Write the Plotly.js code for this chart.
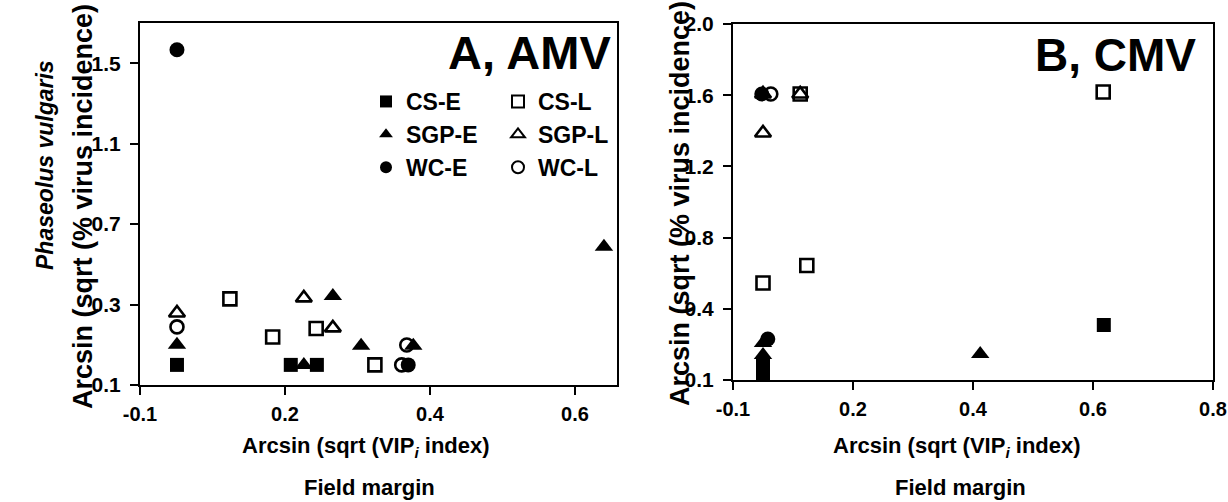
<!DOCTYPE html>
<html>
<head>
<meta charset="utf-8">
<script src="https://cdn.plot.ly/plotly-3.0.1.min.js"></script>
<style>html,body{margin:0;padding:0;background:#fff}#chart{width:1228px;height:502px}</style>
</head>
<body>
<div id="chart"></div>
<script>
// ---- data ----
const seriesNames = ['CS-E', 'SGP-E', 'WC-E', 'CS-L', 'SGP-L', 'WC-L'];

// Panel A, AMV
const amvCSE_x  = [0.051, 0.208, 0.244];
const amvCSE_y  = [0.000, 0.000, 0.000];
const amvSGPE_x = [0.051, 0.226, 0.266, 0.305, 0.377, 0.640];
const amvSGPE_y = [0.100, 0.000, 0.343, 0.095, 0.095, 0.587];
const amvWCE_x  = [0.051, 0.370];
const amvWCE_y  = [1.567, 0.000];
const amvCSL_x  = [0.124, 0.183, 0.243, 0.324];
const amvCSL_y  = [0.328, 0.139, 0.181, 0.000];
const amvSGPL_x = [0.051, 0.226, 0.266];
const amvSGPL_y = [0.258, 0.333, 0.184];
const amvWCL_x  = [0.051, 0.361, 0.368];
const amvWCL_y  = [0.189, 0.000, 0.099];

// Panel B, CMV
const cmvCSE_x  = [0.050, 0.050, 0.618];
const cmvCSE_y  = [0.030, 0.084, 0.309];
const cmvSGPE_x = [0.050, 0.050, 0.412];
const cmvSGPE_y = [0.140, 0.208, 0.146];
const cmvWCE_x  = [0.048, 0.058];
const cmvWCE_y  = [1.607, 0.230];
const cmvCSL_x  = [0.050, 0.112, 0.123, 0.617];
const cmvCSL_y  = [0.545, 1.607, 0.643, 1.618];
const cmvSGPL_x = [0.050, 0.050, 0.112];
const cmvSGPL_y = [1.388, 1.607, 1.607];
const cmvWCL_x  = [0.063];
const cmvWCL_y  = [1.607];

// tick labels
const amvXTickVals = [0, 0.2, 0.4, 0.6];
const amvXTickText = ['-0.1', '0.2', '0.4', '0.6'];
const amvYTickVals = [-0.1, 0.3, 0.7, 1.1, 1.5];
const amvYTickText = ['0.1', '0.3', '0.7', '1.1', '1.5'];
const cmvXTickVals = [0, 0.2, 0.4, 0.6, 0.8];
const cmvXTickText = ['-0.1', '0.2', '0.4', '0.6', '0.8'];
const cmvYTickVals = [0, 0.4, 0.8, 1.2, 1.6, 2.0];
const cmvYTickText = ['0.1', '0.4', '0.8', '1.2', '1.6', '2.0'];

const panelTitles = ['A, AMV', 'B, CMV'];
const xTitle = 'Arcsin (sqrt (VIP<sub><i>i</i></sub> index)';
const xTitle2 = 'Field margin';
const yTitle = 'Arcsin (sqrt (% virus incidence)';
const ySpecies = '<i>Phaseolus vulgaris</i>';

// ---- styling ----
const W = 1228, H = 502;
const FONT = 'Liberation Sans, Arial, Helvetica, sans-serif';
const px = v => v / W;
const py = v => (H - v) / H;

const symbolOf = {
  'CS-E': 'square', 'SGP-E': 'triangle-up', 'WC-E': 'circle',
  'CS-L': 'square-open', 'SGP-L': 'triangle-up-open', 'WC-L': 'circle-open'
};
const sizeOf = {
  'CS-E': 14, 'SGP-E': 16, 'WC-E': 15, 'CS-L': 13, 'SGP-L': 14, 'WC-L': 13
};

function mk(name, x, y, xa, ya, showleg) {
  const open = name.endsWith('-L');
  return {
    type: 'scatter', mode: 'markers', name: name, x: x, y: y,
    xaxis: xa, yaxis: ya, cliponaxis: false,
    showlegend: showleg,
    legend: open ? 'legend2' : 'legend',
    legendgroup: name,
    marker: {
      symbol: symbolOf[name], size: sizeOf[name], color: '#000',
      line: {color: '#000', width: open ? 2.6 : 0}
    },
    hoverinfo: 'x+y+name'
  };
}

const traces = [
  // open series first, filled on top
  mk('CS-L', amvCSL_x, amvCSL_y, 'x', 'y', true),
  mk('SGP-L', amvSGPL_x, amvSGPL_y, 'x', 'y', true),
  mk('WC-L', amvWCL_x, amvWCL_y, 'x', 'y', true),
  mk('CS-E', amvCSE_x, amvCSE_y, 'x', 'y', true),
  mk('SGP-E', amvSGPE_x, amvSGPE_y, 'x', 'y', true),
  mk('WC-E', amvWCE_x, amvWCE_y, 'x', 'y', true),
  mk('CS-L', cmvCSL_x, cmvCSL_y, 'x2', 'y2', false),
  mk('SGP-L', cmvSGPL_x, cmvSGPL_y, 'x2', 'y2', false),
  mk('WC-L', cmvWCL_x, cmvWCL_y, 'x2', 'y2', false),
  mk('CS-E', cmvCSE_x, cmvCSE_y, 'x2', 'y2', false),
  mk('SGP-E', cmvSGPE_x, cmvSGPE_y, 'x2', 'y2', false),
  mk('WC-E', cmvWCE_x, cmvWCE_y, 'x2', 'y2', false)
];

const xTickFont = {family: FONT, size: 20, color: '#000', weight: 'bold'};
const yTickFont = {family: FONT, size: 21, color: '#000', weight: 'bold'};
function axis(domain, range, vals, text, anchor, isY) {
  return {
    domain: domain, range: range, anchor: anchor,
    tickmode: 'array', tickvals: vals, ticktext: text,
    showline: true, linecolor: '#000', linewidth: 2, mirror: true,
    ticks: 'outside', ticklen: 8, tickwidth: 2, tickcolor: '#000',
    ticklabelstandoff: isY ? 5 : 2,
    showgrid: false, zeroline: false, automargin: false,
    tickfont: isY ? yTickFont : xTickFont, fixedrange: true
  };
}

const legFont = {family: FONT, size: 23, color: '#000', weight: 'bold'};
const legendBase = {
  bgcolor: 'rgba(0,0,0,0)', borderwidth: 0, font: legFont,
  orientation: 'v', xanchor: 'left', yanchor: 'top',
  tracegroupgap: 0, itemsizing: 'constant'
};

const annFont = (s) => ({family: FONT, size: s, color: '#000', weight: 'bold'});
const annotations = [
  {text: panelTitles[0], x: px(613), y: py(52), xanchor: 'right', yanchor: 'middle', font: annFont(47)},
  {text: panelTitles[1], x: px(1198), y: py(55), xanchor: 'right', yanchor: 'middle', font: annFont(46)},
  {text: xTitle, x: px(366), y: py(447), xanchor: 'center', yanchor: 'middle', font: annFont(22)},
  {text: xTitle2, x: px(369), y: py(487), xanchor: 'center', yanchor: 'middle', font: annFont(22)},
  {text: xTitle, x: px(957), y: py(447), xanchor: 'center', yanchor: 'middle', font: annFont(22)},
  {text: xTitle2, x: px(960), y: py(487), xanchor: 'center', yanchor: 'middle', font: annFont(22)},
  {text: ySpecies, x: px(45), y: py(165), xanchor: 'center', yanchor: 'middle', textangle: -90, font: annFont(23)},
  {text: yTitle, x: px(83), y: py(207), xanchor: 'center', yanchor: 'middle', textangle: -90, font: annFont(27)},
  {text: yTitle, x: px(680), y: py(204), xanchor: 'center', yanchor: 'middle', textangle: -90, font: annFont(27)}
].map(a => Object.assign({xref: 'paper', yref: 'paper', showarrow: false}, a));

const layout = {
  width: W, height: H,
  margin: {l: 0, r: 0, t: 0, b: 0, pad: 0},
  paper_bgcolor: '#fff', plot_bgcolor: '#fff',
  font: {family: FONT, color: '#000'},
  xaxis: axis([px(140), px(617)], [0, 0.658], amvXTickVals, amvXTickText, 'y', false),
  yaxis: axis([py(385), py(23)], [-0.1, 1.7], amvYTickVals, amvYTickText, 'x', true),
  xaxis2: axis([px(733), px(1213)], [0, 0.8], cmvXTickVals, cmvXTickText, 'y2', false),
  yaxis2: axis([py(380), py(24)], [0, 2.0], cmvYTickVals, cmvYTickText, 'x2', true),
  legend: Object.assign({}, legendBase, {x: px(366), y: py(80)}),
  legend2: Object.assign({}, legendBase, {x: px(498), y: py(80)}),
  annotations: annotations,
  showlegend: true
};

Plotly.newPlot('chart', traces, layout, {displayModeBar: false, staticPlot: true});
</script>
</body>
</html>
